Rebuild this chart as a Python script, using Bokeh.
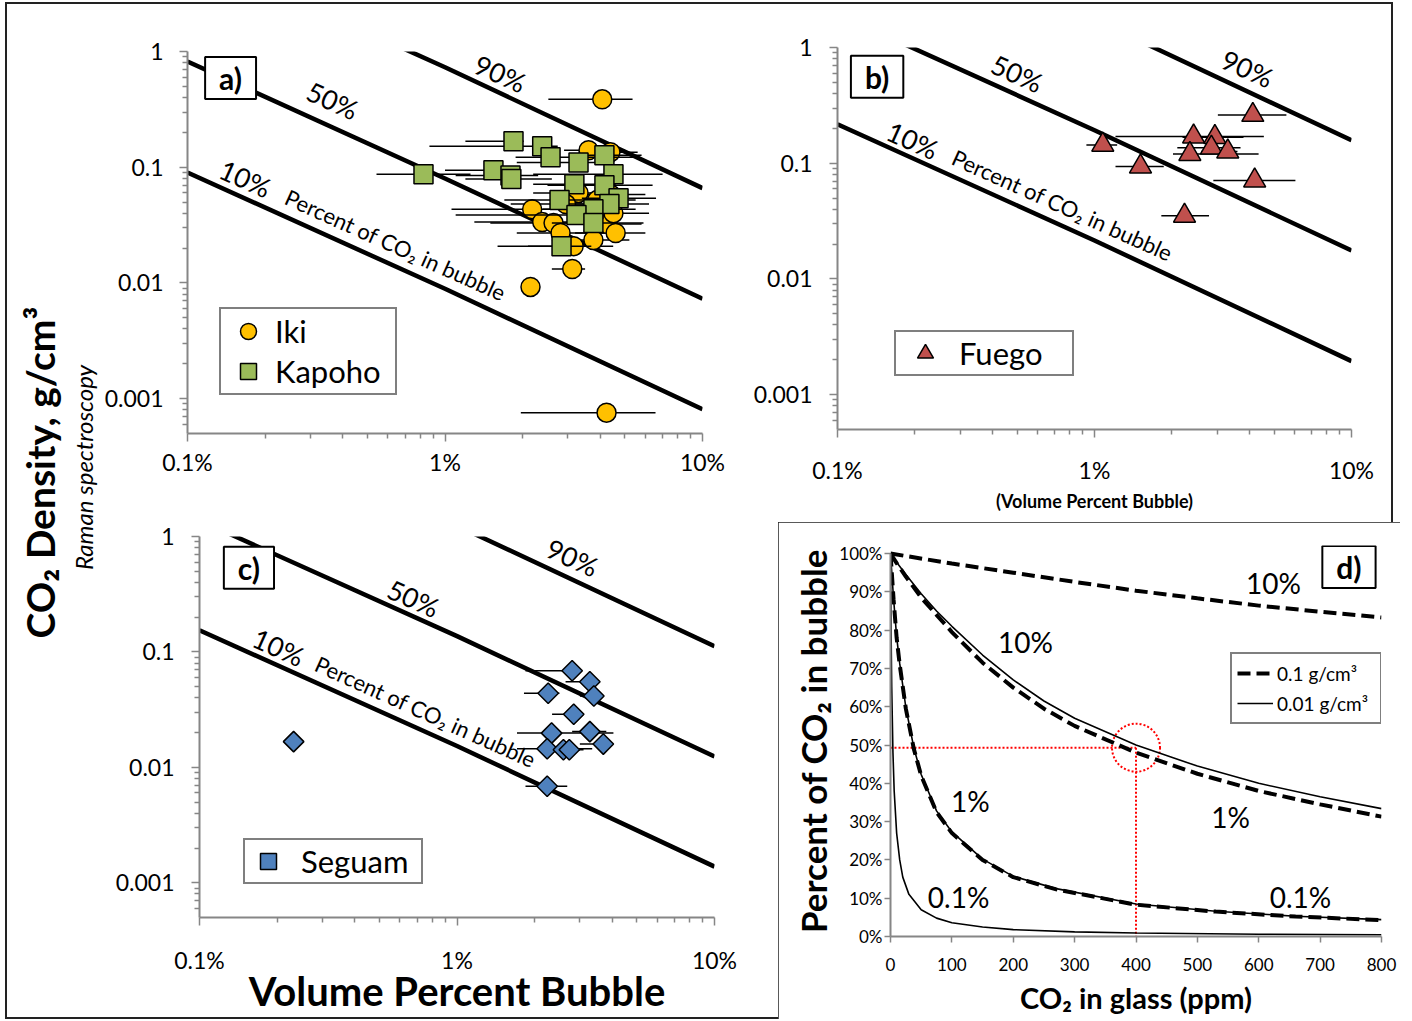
import numpy as np
from bokeh.plotting import figure
from bokeh.models import Range1d, FixedTicker, Legend, LegendItem, Label, Spacer
from bokeh.layouts import row, column
from bokeh.embed import file_html
from bokeh.resources import INLINE
from bokeh.core.properties import value

FONT = "Lato"
GRAY = "#868686"
EDGE = "#222222"

# ---------------- axis ticks ----------------
x_ticks = [0.1, 1, 10]
x_tick_labels = ["0.1%", "1%", "10%"]
x_minor = [0.2, 0.3, 0.4, 0.5, 0.6, 0.7, 0.8, 0.9, 2, 3, 4, 5, 6, 7, 8, 9]
y_ticks = [0.001, 0.01, 0.1, 1]
y_tick_labels = ["0.001", "0.01", "0.1", "1"]
y_minor = [0.0006, 0.0007, 0.0008, 0.0009,
           0.002, 0.003, 0.004, 0.005, 0.006, 0.007, 0.008, 0.009,
           0.02, 0.03, 0.04, 0.05, 0.06, 0.07, 0.08, 0.09,
           0.2, 0.3, 0.4, 0.5, 0.6, 0.7, 0.8, 0.9]

# ---------------- iso-percent lines (density vs volume %) ----------------
line_vol = [0.1, 1, 10]
a_pct10 = [0.090, 0.0089, 0.00081]
a_pct50 = [0.82, 0.080, 0.0073]
a_pct90 = [7.4, 0.73, 0.066]
b_pct10 = [0.217, 0.0215, 0.00195]
b_pct50 = [1.95, 0.193, 0.0176]
b_pct90 = [17.5, 1.74, 0.158]
c_pct10 = [0.154, 0.0153, 0.00138]
c_pct50 = [1.38, 0.137, 0.0124]
c_pct90 = [12.4, 1.24, 0.112]

# ---------------- panel a: Iki ----------------
iki_x = [4.08, 4.24, 3.61, 4.39, 2.18, 2.385, 2.64, 2.81, 3.16, 3.77, 4.28, 4.60, 4.51, 3.12, 2.148,
         3.3, 3.9, 4.4, 2.95]
iki_y = [0.386, 0.000757, 0.140, 0.135, 0.0434, 0.0336, 0.0329, 0.027, 0.0208, 0.0235, 0.0323, 0.027,
         0.0401, 0.0132, 0.00924, 0.060, 0.052, 0.058, 0.048]
iki_lo = [2.52, 1.97, 2.9, 3.3, 1.06, 1.3, 1.5, 1.9, 2.1, 2.6, 3.0, 3.2, 3.1, 2.6, 2.148,
          2.2, 2.6, 3.0, 1.8]
iki_hi = [5.35, 6.57, 5.0, 5.6, 3.6, 3.8, 4.0, 4.2, 4.5, 5.2, 5.8, 6.0, 6.2, 3.5, 2.148,
          4.8, 5.5, 6.0, 4.3]

# ---------------- panel a: Kapoho ----------------
kap_x = [0.825, 1.845, 2.385, 2.57, 3.30, 4.16, 1.542, 1.796, 1.81, 4.51, 3.18, 4.16, 4.72, 4.35,
         2.785, 3.77, 3.24, 3.77, 2.835]
kap_y = [0.087, 0.168, 0.152, 0.122, 0.110, 0.127, 0.094, 0.085, 0.079, 0.087, 0.0714, 0.070, 0.054,
         0.048, 0.052, 0.0434, 0.0386, 0.0329, 0.0208]
kap_lo = [0.542, 1.20, 0.87, 1.88, 1.9, 3.4, 1.0, 1.1, 1.2, 2.2, 2.2, 2.5, 3.4, 3.0, 1.7, 2.4, 1.1,
          2.6, 1.6]
kap_hi = [1.256, 2.02, 2.74, 5.7, 4.5, 5.8, 1.96, 2.3, 2.6, 7.0, 4.6, 6.4, 6.6, 6.2, 3.8, 5.5, 4.0,
          5.9, 3.7]

# ---------------- panel b: Fuego ----------------
fue_x = [4.13, 1.077, 2.43, 2.94, 2.85, 2.35, 3.30, 1.51, 4.20, 2.24]
fue_y = [0.261, 0.144, 0.170, 0.168, 0.136, 0.120, 0.126, 0.0935, 0.0708, 0.0351]
fue_lo = [3.02, 0.93, 1.207, 2.2, 2.1, 2.02, 2.6, 1.207, 2.90, 1.82]
fue_hi = [5.58, 1.225, 4.56, 3.8, 3.7, 4.35, 3.6, 1.86, 6.05, 2.79]

# ---------------- panel c: Seguam ----------------
seg_x = [2.80, 3.28, 3.40, 2.26, 2.84, 2.33, 3.28, 3.70, 2.24, 2.59, 2.73, 2.24, 0.232]
seg_y = [0.0686, 0.0551, 0.0415, 0.0438, 0.0288, 0.0198, 0.0204, 0.0159, 0.0145, 0.0142, 0.0142,
         0.00686, 0.0167]
seg_lo = [1.845, 2.64, 3.0, 1.82, 2.34, 1.71, 2.8, 3.0, 1.71, 2.2, 2.3, 1.845, 0.232]
seg_hi = [2.80, 3.5, 3.6, 2.5, 3.1, 4.05, 3.8, 4.0, 3.35, 3.0, 3.1, 2.68, 0.232]

# ---------------- panel d: percent of CO2 in bubble vs CO2 in glass ----------------
d_ppm_a = [0, 100, 200, 300, 400, 500, 600, 700, 800]
d_dash_10 = [100, 97.4, 95.0, 92.6, 90.3, 88.3, 86.4, 84.8, 83.3]
d_ppm_b = [0, 10, 25, 50, 75, 100, 150, 200, 250, 300, 400, 500, 600, 700, 800]
d_dash_1 = [100, 97.5, 94, 88.5, 84, 79.5, 71.5, 65, 59.5, 55, 48, 42.5, 38, 34.5, 31.3]
d_solid_10 = [100, 97.7, 94.5, 89.5, 85, 81, 73.5, 67, 61.5, 57, 50, 44.5, 40, 36.5, 33.4]
d_ppm_c = [0, 5, 10, 15, 25, 38, 50, 75, 100, 150, 200, 270, 400, 530, 660, 800]
d_dash_01 = [100, 88, 78, 71, 59.5, 49, 42, 32.5, 27, 20, 15.5, 12.3, 8.3, 6.5, 5.2, 4.3]
d_solid_1 = [100, 88.2, 78.3, 71.3, 59.8, 49.3, 42.3, 32.8, 27.3, 20.2, 15.7, 12.5, 8.5, 6.6, 5.3, 4.4]
d_ppm_e = [0, 1, 2, 4, 6, 10, 15, 20, 30, 50, 75, 100, 150, 200, 300, 400, 600, 800]
d_solid_01 = [100, 79, 65, 48, 38, 27, 20, 15.5, 11, 7, 4.8, 3.6, 2.5, 1.8, 1.2, 0.9, 0.6, 0.45]
d_ref_ppm = [0, 400]
d_ref_pct = [49.3, 49.3]
d_ref_vx = [400, 400]
d_ref_vy = [49.3, 0]
d_x_ticks = [0, 100, 200, 300, 400, 500, 600, 700, 800]
d_y_ticks = [0, 10, 20, 30, 40, 50, 60, 70, 80, 90, 100]
d_y_labels = ["0%", "10%", "20%", "30%", "40%", "50%", "60%", "70%", "80%", "90%", "100%"]


def style_axis(ax, size="23px", tick_out=8, minor_out=5):
    ax.axis_line_color = GRAY
    ax.axis_line_width = 2
    ax.major_tick_line_color = GRAY
    ax.major_tick_line_width = 1.5
    ax.minor_tick_line_color = GRAY
    ax.minor_tick_line_width = 1.5
    ax.major_tick_out = tick_out
    ax.major_tick_in = 0
    ax.minor_tick_out = minor_out
    ax.minor_tick_in = 0
    ax.major_label_text_font = FONT
    ax.major_label_text_font_size = size
    ax.major_label_text_color = "black"
    ax.axis_label_text_font = FONT
    ax.axis_label_text_color = "black"
    ax.axis_label_text_font_style = "bold"


def log_panel(w, h, mb, xstand, ystand, shadow):
    p = figure(width=w, height=h, x_axis_type="log", y_axis_type="log",
               x_range=Range1d(0.1, 10), y_range=Range1d(0.0005, 1),
               output_backend="svg", toolbar_location=None, frame_align=False,
               min_border_left=mb[0], min_border_right=mb[1],
               min_border_top=mb[2], min_border_bottom=mb[3],
               border_fill_alpha=0, outline_line_color=None,
               background_fill_color="white",
               styles={"box-shadow": shadow})
    p.xgrid.visible = False
    p.ygrid.visible = False
    p.xaxis.ticker = FixedTicker(ticks=x_ticks, minor_ticks=x_minor)
    p.yaxis.ticker = FixedTicker(ticks=y_ticks, minor_ticks=y_minor)
    p.xaxis.major_label_overrides = dict(zip(x_ticks, x_tick_labels))
    p.yaxis.major_label_overrides = dict(zip(y_ticks, y_tick_labels))
    style_axis(p.xaxis[0])
    style_axis(p.yaxis[0])
    p.xaxis.major_label_standoff = xstand
    p.yaxis.major_label_standoff = ystand
    return p


def iso_lines(p, ys):
    for yy in ys:
        p.line(line_vol, yy, line_color="black", line_width=4.5)


def line_labels(p, xs, ys, texts, nx, ny):
    ang = -0.4233
    p.text(xs, ys, text=texts, angle=ang, text_font=value(FONT), text_font_size="27px",
           text_align="center", text_baseline="middle", text_color="black")
    p.text([nx], [ny], text=["Percent of CO\u2082 in bubble"], angle=ang, text_font=value(FONT),
           text_font_size="22px", text_align="center", text_baseline="middle", text_color="black")


def panel_tag(p, x, y, txt):
    p.add_layout(Label(x=x, y=y, text=txt, text_align="center", text_baseline="middle",
                       text_font=FONT, text_font_style="bold", text_font_size="30px",
                       text_color="black",
                       border_line_color="black", border_line_width=2,
                       background_fill_color="white", background_fill_alpha=1,
                       padding=dict(left=14, right=14, top=3, bottom=3)))


def make_legend(items, loc, gw, gh, standoff, lw, pad=2):
    return Legend(items=items, location=loc, orientation="vertical", glyph_width=gw,
                  glyph_height=gh, spacing=0, padding=pad, label_standoff=standoff,
                  label_width=lw, label_text_font=FONT, label_text_font_size="31px",
                  label_text_color="black",
                  border_line_color="black", border_line_width=2,
                  background_fill_color="white", background_fill_alpha=1, margin=0)


# ---------------- left label strip ----------------
p0 = figure(width=95, height=1017, x_range=Range1d(0, 95), y_range=Range1d(0, 1017),
            output_backend="svg", toolbar_location=None, x_axis_location=None,
            y_axis_location=None, min_border=0, border_fill_alpha=0, background_fill_alpha=0,
            outline_line_color=None, frame_align=False,
            styles={"box-shadow": f"inset 2px 0 0 0 {EDGE}, inset 0 2px 0 0 {EDGE}, inset 0 -2px 0 0 {EDGE}"})
p0.grid.visible = False
p0.text([34], [547], text=["CO\u2082 Density, g/cm\u00b3"], angle=np.pi / 2, text_font=value(FONT),
        text_font_style="bold", text_font_size="39px", text_align="center",
        text_baseline="middle", text_color="black")
p0.text([78], [552], text=["Raman spectroscopy"], angle=np.pi / 2, text_font=value(FONT),
        text_font_style="italic", text_font_size="24px", text_align="center",
        text_baseline="middle", text_color="black")

# ---------------- panel a ----------------
pa = log_panel(640, 520, (87, 38, 49, 89), 6, 16, f"inset 0 2px 0 0 {EDGE}")
iso_lines(pa, [a_pct10, a_pct50, a_pct90])
pa.segment(x0=iki_lo, x1=iki_hi, y0=iki_y, y1=iki_y, line_color="black", line_width=1.5)
r_iki = pa.scatter(iki_x, iki_y, marker="circle", size=19, fill_color="#FFC000",
                   line_color="black", line_width=1.5)
pa.segment(x0=kap_lo, x1=kap_hi, y0=kap_y, y1=kap_y, line_color="black", line_width=1.5)
r_kap = pa.scatter(kap_x, kap_y, marker="square", size=19, fill_color="#9BBB59",
                   line_color="black", line_width=1.5)
line_labels(pa, [1.64, 0.366, 0.168], [0.646, 0.378, 0.080], ["90%", "50%", "10%"], 0.643, 0.0213)
panel_tag(pa, 0.147, 0.591, "a)")
pa.add_layout(make_legend([LegendItem(label="Iki", renderers=[r_iki]),
                           LegendItem(label="Kapoho", renderers=[r_kap])],
                          (32, 38), 50, 40, 2, 118))

# ---------------- panel b ----------------
pb = log_panel(653, 520, (97, 42, 45, 93), 18, 17,
               f"inset 0 2px 0 0 {EDGE}, inset -2px 0 0 0 {EDGE}")
iso_lines(pb, [b_pct10, b_pct50, b_pct90])
pb.segment(x0=fue_lo, x1=fue_hi, y0=fue_y, y1=fue_y, line_color="black", line_width=1.5)
r_fue = pb.scatter(fue_x, fue_y, marker="triangle", size=22, fill_color="#C0504D",
                   line_color="black", line_width=1.5)
line_labels(pb, [3.94, 0.50, 0.196], [0.659, 0.597, 0.158], ["90%", "50%", "10%"], 0.75, 0.0435)
panel_tag(pb, 0.1426, 0.560, "b)")
pb.xaxis.axis_label = "(Volume Percent Bubble)"
pb.xaxis.axis_label_text_font_size = "18px"
pb.xaxis.axis_label_standoff = 3
pb.add_layout(make_legend([LegendItem(label="Fuego", renderers=[r_fue])],
                          (57, 53), 56, 40, 6, 112, pad=1))

# ---------------- panel c ----------------
pc = log_panel(678, 497, (99, 64, 14, 102), 20, 17, f"inset 0 -2px 0 0 {EDGE}")
iso_lines(pc, [c_pct10, c_pct50, c_pct90])
pc.segment(x0=seg_lo, x1=seg_hi, y0=seg_y, y1=seg_y, line_color="black", line_width=1.5)
r_seg = pc.scatter(seg_x, seg_y, marker="square", angle=np.pi / 4, size=14.5,
                   fill_color="#4F81BD", line_color="black", line_width=1.5)
line_labels(pc, [2.81, 0.678, 0.203], [0.659, 0.292, 0.110], ["90%", "50%", "10%"], 0.755, 0.0304)
panel_tag(pc, 0.1556, 0.537, "c)")
pc.xaxis.axis_label = "Volume Percent Bubble"
pc.xaxis.axis_label_text_font_size = "40px"
pc.xaxis.axis_label_standoff = -10
pc.add_layout(make_legend([LegendItem(label="Seguam", renderers=[r_seg])],
                          (44, 33), 44, 40, 11, 119, pad=1))

# ---------------- panel d ----------------
fd = figure(width=622, height=497, x_range=Range1d(0, 800), y_range=Range1d(0, 102.1),
            output_backend="svg", toolbar_location=None, frame_align=False,
            min_border_left=112, min_border_right=19, min_border_top=23, min_border_bottom=83,
            border_fill_color="white", outline_line_color=None, background_fill_color="white",
            styles={"box-shadow": f"inset 0 0 0 2px {EDGE}"})
fd.xgrid.visible = False
fd.ygrid.visible = False
fd.xaxis.ticker = FixedTicker(ticks=d_x_ticks)
fd.yaxis.ticker = FixedTicker(ticks=d_y_ticks)
fd.yaxis.bounds = (0, 100)
fd.yaxis.major_label_overrides = dict(zip(d_y_ticks, d_y_labels))
style_axis(fd.xaxis[0], size="17px", tick_out=6)
style_axis(fd.yaxis[0], size="17px", tick_out=6)
fd.xaxis.major_label_standoff = 15
fd.yaxis.major_label_standoff = 2
fd.xaxis.axis_label = "CO\u2082 in glass (ppm)"
fd.xaxis.axis_label_text_font_size = "29px"
fd.xaxis.axis_label_standoff = 6
fd.yaxis.axis_label = "Percent of CO\u2082 in bubble"
fd.yaxis.axis_label_text_font_size = "35px"
fd.yaxis.axis_label_standoff = 2

fd.line(d_ref_ppm, d_ref_pct, line_color="#FF0000", line_width=2, line_dash="2 2")
fd.line(d_ref_vx, d_ref_vy, line_color="#FF0000", line_width=2, line_dash="2 2")
fd.scatter([d_ref_vx[0]], [d_ref_pct[0]], marker="circle", size=48, fill_color=None,
           line_color="#FF0000", line_width=2, line_dash="2 2")

dash_kw = dict(line_color="black", line_width=4, line_dash="13 6")
solid_kw = dict(line_color="black", line_width=1.6)
r_d10 = fd.line(d_ppm_a, d_dash_10, **dash_kw)
fd.line(d_ppm_b, d_dash_1, **dash_kw)
fd.line(d_ppm_c, d_dash_01, **dash_kw)
r_s10 = fd.line(d_ppm_b, d_solid_10, **solid_kw)
fd.line(d_ppm_c, d_solid_1, **solid_kw)
fd.line(d_ppm_e, d_solid_01, **solid_kw)

fd.text([624, 220, 130, 554, 111, 668], [92.4, 76.8, 35.5, 31.1, 10.2, 10.2],
        text=["10%", "10%", "1%", "1%", "0.1%", "0.1%"], text_font=value(FONT),
        text_font_size="28px", text_align="center", text_baseline="middle", text_color="black")

fd.add_layout(Label(x=747, y=96.5, text="d)", text_align="center", text_baseline="middle",
                    text_font=FONT, text_font_style="bold", text_font_size="30px",
                    text_color="black",
                    border_line_color="black", border_line_width=2,
                    background_fill_color="white", background_fill_alpha=1,
                    padding=dict(left=14, right=14, top=3, bottom=3)))

fd.add_layout(Legend(items=[LegendItem(label="0.1 g/cm\u00b3", renderers=[r_d10]),
                            LegendItem(label="0.01 g/cm\u00b3", renderers=[r_s10])],
                     location=(340, 212), glyph_width=36, glyph_height=28, spacing=2, padding=5,
                     label_standoff=4, label_width=98, label_text_font=FONT,
                     label_text_font_size="19px", label_text_color="black",
                     border_line_color="black",
                     border_line_width=2, background_fill_color="white", margin=0))

body = row(p0, column(row(pa, pb), row(pc, fd)))
layout = column(Spacer(width=1400, height=2), row(Spacer(width=5, height=1017), body))

open("out.html", "w").write(file_html(layout, INLINE))
